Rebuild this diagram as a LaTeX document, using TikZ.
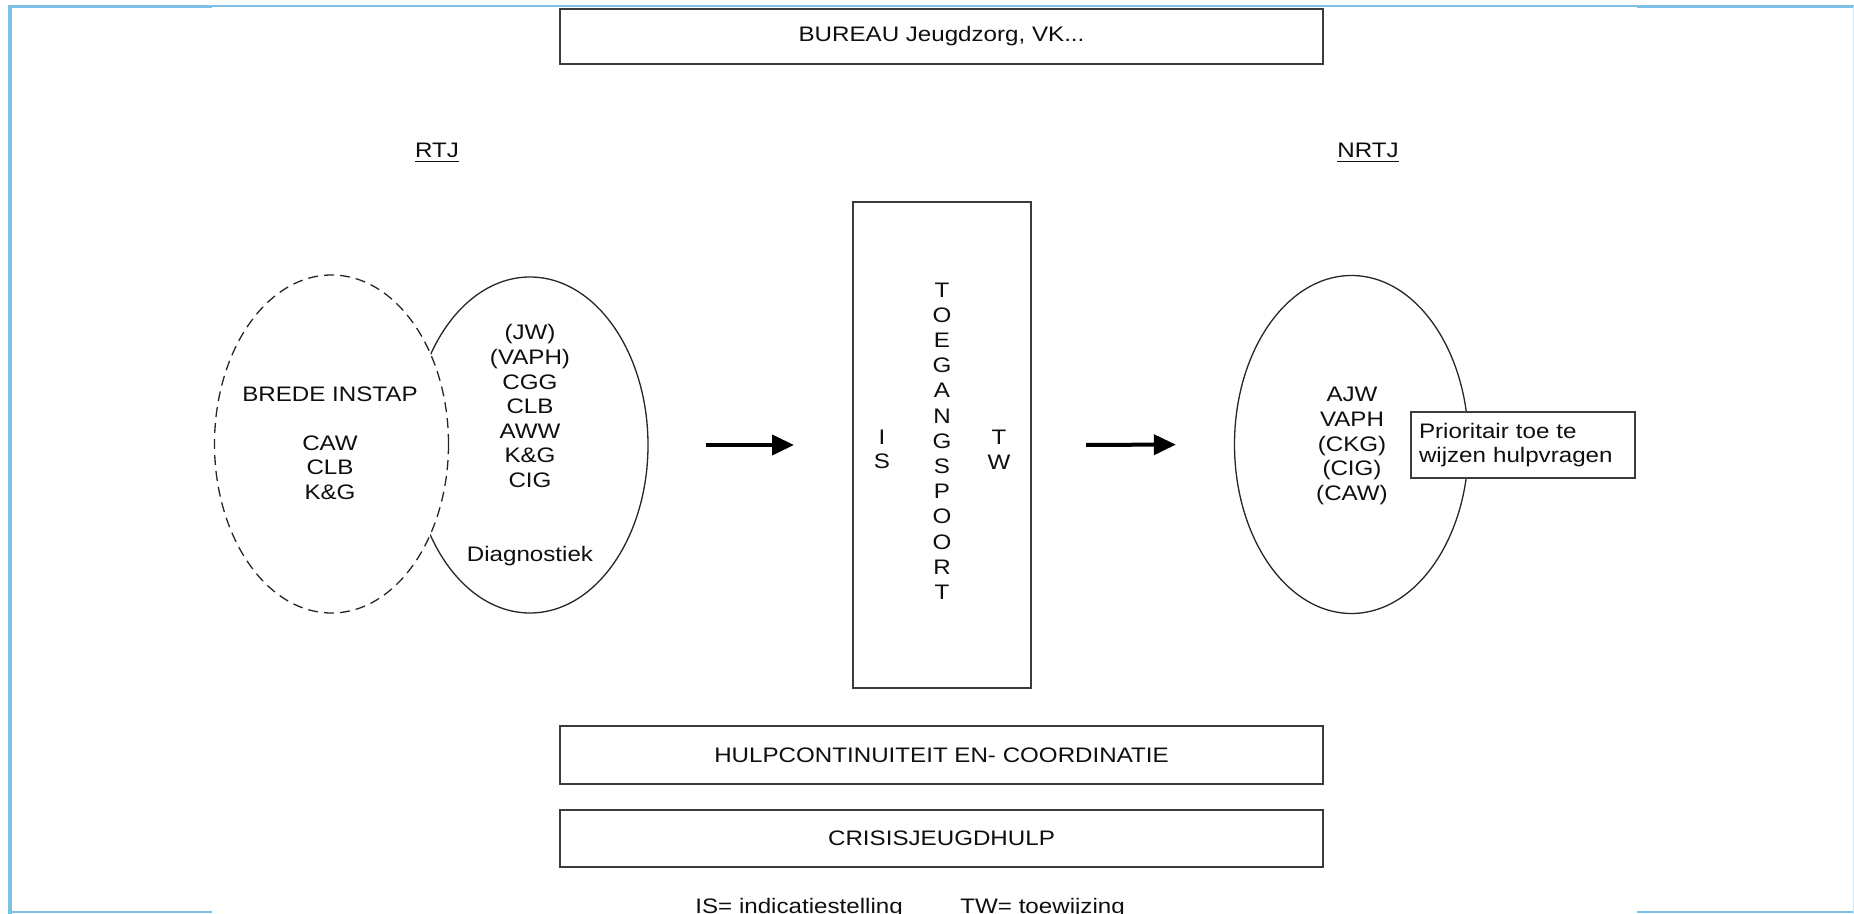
\documentclass[tikz,border=0pt]{standalone}
\usepackage{fontspec}
\setmainfont{Liberation Sans}[FakeStretch=1.15]
\usetikzlibrary{shapes.geometric,arrows.meta}
\definecolor{frameblue}{RGB}{125,194,230}
\definecolor{linegray}{RGB}{60,60,60}
\definecolor{textgray}{RGB}{15,15,15}
\begin{document}
\begin{tikzpicture}[
  x=0.5pt, y=-0.5pt,
  every node/.style = {text=textgray, font=\fontsize{10.5}{12.3}\selectfont,
    align=center, inner sep=0pt},
  bar/.style = {draw=linegray, line width=1pt, fill=white,
    minimum width=381.5pt, minimum height=28pt},
  oval/.style = {ellipse, draw=black!85, line width=0.65pt,
    minimum width=117pt, minimum height=169pt},
  gate/.style = {draw=linegray, line width=1pt, minimum width=89pt, minimum height=243pt},
  flow/.style = {line width=2pt, -{Triangle[length=11pt,width=10pt]}}
  ]
  \useasboundingbox (0,0) rectangle (1854,914);
  \fill[white] (0,0) rectangle (1854,914);
  \draw[frameblue, line width=2pt] (10,5) -- (10,914);
  \draw[frameblue, line width=1.5pt] (8,7) -- (212,7) (1637,7) -- (1854,7);
  \draw[frameblue, line width=0.8pt] (212,6) -- (1637,6);
  \draw[frameblue, line width=0.8pt] (8,912) -- (212,912) (1637,912) -- (1854,912);
  \draw[frameblue!40, line width=0.5pt] (1853,6) -- (1853,914);

  \node[bar, minimum height=27.5pt] (bureau) at (941.5,36.5) {BUREAU Jeugdzorg, VK...};
  \node[anchor=base] (rtj) at (437,158) {\underline{RTJ}};
  \node[anchor=base] (nrtj) at (1368,158) {\underline{NRTJ}};

  \node[oval, minimum width=118pt, minimum height=168pt] (diag) at (530,445) {};
  \node[oval, fill=white, dash pattern=on 5pt off 3pt] (instap) at (331.5,444) {};
  \node (instaptxt) at (330,443) {BREDE INSTAP\\[12.3pt]CAW\\CLB\\K\&G};
  \node (diagtxt) at (530,445) {(JW)\\(VAPH)\\CGG\\CLB\\AWW\\K\&G\\CIG\\[24.5pt]Diagnostiek};

  \node[gate] (gate) at (942,445) {};
  \node[font=\fontsize{10.5}{12.6}\selectfont] (gatetxt) at (942,441)
    {T\\O\\E\\G\\A\\N\\G\\S\\P\\O\\O\\R\\T};
  \node (is) at (882,449.5) {I\\S};
  \node (tw) at (999,449.5) {T\\W};

  \node[oval] (nrtjell) at (1351.5,444.5) {};
  \node (nrtjtxt) at (1352,446) {AJW\\VAPH\\(CKG)\\(CIG)\\(CAW)};
  \node[draw=linegray, line width=0.8pt, fill=white, minimum width=112pt,
    minimum height=33pt, text width=104pt, align=left] (prio) at (1523,445)
    {Prioritair toe te\\wijzen hulpvragen};

  \draw[flow, shorten <=28.5pt, shorten >=29pt] (diag.east) -- (gate.west);
  \draw[flow, shorten <=27pt, shorten >=29pt] (gate.east) -- (nrtjell.west);

  \node[bar, minimum height=29pt] (hulp) at (941.5,755) {HULPCONTINUITEIT EN- COORDINATIE};
  \node[bar, minimum height=28.5pt] (crisis) at (941.5,838.5) {CRISISJEUGDHULP};
  \node[anchor=base west] (isdef) at (695,913) {IS= indicatiestelling};
  \node[anchor=base west] (twdef) at (960,913) {TW= toewijzing};
\end{tikzpicture}
\end{document}
